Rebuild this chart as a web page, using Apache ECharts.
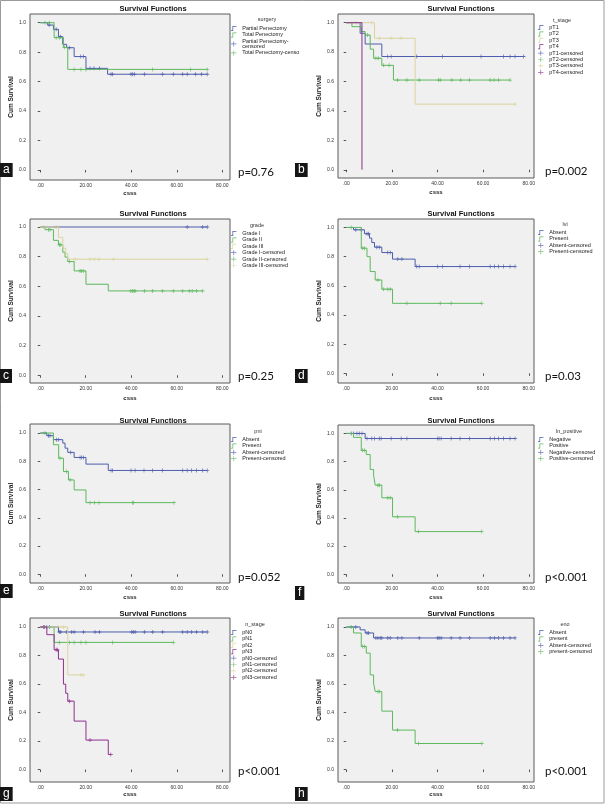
<!DOCTYPE html>
<html lang="en">
<head>
  <meta charset="utf-8">
  <title>Survival Functions</title>
  <style>
    html, body { margin: 0; padding: 0; background: #fff; }
    #chart { width: 605px; height: 804px; }
  </style>
</head>
<body>
<div id="chart"></div>
<script src="https://cdn.jsdelivr.net/npm/echarts@6.0.0/dist/echarts.min.js"></script>
<script>
  "use strict";

  // ---- data (time in months, cumulative survival) ----
  const tickX = [0, 20, 40, 60, 80];
  const tickY = [0, 0.2, 0.4, 0.6, 0.8, 1.0];

  // a: surgery
  const aPartialT = [0, 3.3, 5.8, 8.0, 9.9, 11.6, 14.9, 20.1, 29.6, 73.4];
  const aPartialS = [1, 0.984, 0.955, 0.905, 0.853, 0.83, 0.77, 0.69, 0.65, 0.65];
  const aPartialC = [3.9, 7.0, 8.9, 12.8, 17.8, 19.0, 21.9, 23.6, 26.0, 31.1, 31.8, 39.9, 40.6, 41.4, 45.8, 53.7, 58.5, 62.6, 64.6, 68.3, 70.9, 73.4];
  const aTotalT = [0, 6.1, 10.2, 12.1, 73.4];
  const aTotalS = [1, 0.898, 0.833, 0.683, 0.683];
  const aTotalC = [2.1, 4.0, 7.0, 8.4, 10.6, 14.9, 17.9, 20.1, 49.4, 66.1, 73.4];

  // b: t_stage
  const bT1T = [0, 6.1, 8.3, 15.6, 77.7];
  const bT1S = [1, 0.928, 0.855, 0.77, 0.77];
  const bT1C = [18.2, 19.7, 30.9, 42.2, 59.1, 68.9, 71.8, 74.0, 77.7];
  const bT2T = [0, 2.5, 6.6, 8.3, 10.5, 12.0, 15.6, 20.7, 71.8];
  const bT2S = [1, 0.973, 0.94, 0.916, 0.82, 0.758, 0.71, 0.61, 0.61];
  const bT2C = [9.3, 13.0, 14.2, 16.4, 18.8, 22.5, 26.6, 32.0, 40.4, 41.2, 46.3, 50.2, 54.0, 63.1, 64.8, 66.7, 71.8];
  const bT3T = [0, 12.4, 30.2, 74.0];
  const bT3S = [1, 0.894, 0.446, 0.446];
  const bT3C = [2.5, 3.9, 4.7, 11.2, 14.6, 19.7, 24.1, 74.0];
  const bT4T = [0, 6.9];
  const bT4S = [1, 0];
  const bT4C = [];

  // c: grade
  const cG1T = [0, 73.4];
  const cG1S = [1, 1];
  const cG1C = [64.6, 71.4, 73.4];
  const cG2T = [0, 2.1, 5.8, 8.0, 9.9, 10.9, 12.1, 14.9, 20.1, 29.9, 71.4];
  const cG2S = [1, 0.982, 0.91, 0.88, 0.83, 0.797, 0.767, 0.704, 0.614, 0.569, 0.569];
  const cG2C = [3.6, 4.3, 8.4, 9.0, 12.8, 17.5, 18.2, 19.0, 39.8, 40.5, 41.2, 41.7, 45.8, 49.4, 53.7, 58.5, 62.6, 65.5, 66.8, 68.7, 71.4];
  const cG3T = [0, 8.0, 9.9, 11.2, 12.1, 73.4];
  const cG3S = [1, 0.93, 0.857, 0.82, 0.783, 0.783];
  const cG3C = [1.4, 6.5, 7.2, 15.3, 21.9, 23.8, 25.8, 32.1, 73.4];

  // d: lvi
  const dAbsT = [0, 3.2, 8.0, 10.2, 11.2, 12.4, 15.6, 20.3, 30.2, 74.0];
  const dAbsS = [1, 0.984, 0.957, 0.927, 0.897, 0.865, 0.828, 0.783, 0.732, 0.732];
  const dAbsC = [4.2, 6.6, 9.1, 9.8, 13.4, 14.5, 18.2, 19.3, 22.6, 24.4, 30.9, 32.0, 40.1, 42.2, 49.9, 54.0, 63.1, 65.0, 66.7, 68.9, 71.8, 74.0];
  const dPreT = [0, 6.6, 9.1, 10.5, 12.7, 15.6, 20.3, 59.4];
  const dPreS = [1, 0.858, 0.80, 0.698, 0.64, 0.577, 0.48, 0.48];
  const dPreC = [2.2, 7.2, 8.0, 13.9, 16.4, 18.2, 19.3, 26.6, 41.2, 46.0, 59.4];

  // e: pni
  const eAbsT = [0, 2.9, 5.8, 9.9, 10.9, 12.1, 14.9, 20.1, 29.9, 73.4];
  const eAbsS = [1, 0.981, 0.953, 0.929, 0.893, 0.863, 0.827, 0.78, 0.735, 0.735];
  const eAbsC = [3.6, 4.3, 7.2, 8.1, 13.4, 17.5, 18.2, 19.0, 31.1, 31.8, 39.9, 41.7, 45.6, 49.4, 53.7, 62.6, 64.6, 66.5, 68.7, 71.4, 73.4];
  const ePreT = [0, 5.8, 8.1, 10.2, 12.4, 14.9, 20.1, 58.8];
  const ePreS = [1, 0.917, 0.822, 0.727, 0.668, 0.597, 0.507, 0.507];
  const ePreC = [2.1, 8.7, 11.6, 13.1, 21.9, 23.8, 25.8, 40.6, 40.9, 58.8];

  // f: ln_positive
  const fNegT = [0, 8.3, 74.0];
  const fNegS = [1, 0.964, 0.964];
  const fNegC = [2.2, 3.2, 4.7, 5.7, 6.9, 9.1, 11.2, 12.4, 14.5, 15.3, 19.7, 24.1, 26.6, 40.1, 40.7, 41.6, 46.0, 49.9, 54.0, 63.1, 65.0, 66.7, 68.9, 71.8, 74.0];
  const fPosT = [0, 3.2, 6.6, 8.8, 10.5, 12.0, 12.7, 15.6, 20.3, 30.2, 59.4];
  const fPosS = [1, 0.972, 0.88, 0.85, 0.744, 0.704, 0.633, 0.543, 0.408, 0.303, 0.303];
  const fPosC = [7.2, 8.0, 13.9, 14.5, 18.2, 19.3, 22.5, 31.7, 59.4];

  // g: n_stage
  const gN0T = [0, 8.0, 73.4];
  const gN0S = [1, 0.965, 0.965];
  const gN0C = [1.4, 2.9, 4.0, 8.4, 9.0, 11.6, 13.8, 14.9, 19.0, 24.1, 26.0, 40.2, 40.9, 41.7, 45.8, 49.4, 53.8, 62.6, 64.6, 66.5, 68.7, 71.4, 73.4];
  const gN1T = [0, 6.1, 58.5];
  const gN1S = [1, 0.892, 0.892];
  const gN1C = [8.4, 12.8, 14.9, 17.9, 20.1, 31.8, 58.5];
  const gN2T = [0, 12.1, 19.0];
  const gN2S = [1, 0.664, 0.664];
  const gN2C = [8.0, 10.2, 17.9, 19.0];
  const gN3T = [0, 2.9, 6.1, 8.0, 10.2, 11.2, 12.1, 14.9, 20.1, 29.9, 31.0];
  const gN3S = [1, 0.946, 0.84, 0.775, 0.599, 0.535, 0.48, 0.34, 0.207, 0.106, 0.106];
  const gN3C = [1.8, 7.0, 7.5, 12.8, 21.9, 31.0];

  // h: eno
  const hAbsT = [0, 6.1, 8.3, 12.0, 74.0];
  const hAbsS = [1, 0.98, 0.958, 0.923, 0.923];
  const hAbsC = [4.2, 9.1, 9.8, 13.0, 13.9, 14.9, 15.6, 18.2, 19.3, 22.6, 24.4, 32.0, 40.1, 40.7, 41.6, 46.0, 49.9, 54.0, 63.1, 65.0, 66.7, 68.9, 71.8, 74.0];
  const hPreT = [0, 3.2, 6.6, 8.8, 10.5, 12.0, 12.7, 15.6, 20.3, 30.2, 59.4];
  const hPreS = [1, 0.958, 0.864, 0.817, 0.664, 0.606, 0.547, 0.41, 0.277, 0.183, 0.183];
  const hPreC = [2.2, 7.2, 8.0, 13.9, 14.5, 22.5, 31.7, 59.4];

  const letters = ['a', 'b', 'c', 'd', 'e', 'f', 'g', 'h'];
  const factorNames = ['surgery', 't_stage', 'grade', 'lvi', 'pni', 'ln_positive', 'n_stage', 'eno'];
  const pValues = ['p=0.76', 'p=0.002', 'p=0.25', 'p=0.03', 'p=0.052', 'p<0.001', 'p<0.001', 'p<0.001'];

  const BLUE = '#4d5dab', GREEN = '#5db85d', TAN = '#d9d49c', PURPLE = '#8e2f8e';

  const groups = [
    [['Partial Penectomy', BLUE, aPartialT, aPartialS, aPartialC], ['Total Penectomy', GREEN, aTotalT, aTotalS, aTotalC]],
    [['pT1', BLUE, bT1T, bT1S, bT1C], ['pT2', GREEN, bT2T, bT2S, bT2C], ['pT3', TAN, bT3T, bT3S, bT3C], ['pT4', PURPLE, bT4T, bT4S, bT4C]],
    [['Grade I', BLUE, cG1T, cG1S, cG1C], ['Grade II', GREEN, cG2T, cG2S, cG2C], ['Grade III', TAN, cG3T, cG3S, cG3C]],
    [['Absent', BLUE, dAbsT, dAbsS, dAbsC], ['Present', GREEN, dPreT, dPreS, dPreC]],
    [['Absent', BLUE, eAbsT, eAbsS, eAbsC], ['Present', GREEN, ePreT, ePreS, ePreC]],
    [['Negative', BLUE, fNegT, fNegS, fNegC], ['Positive', GREEN, fPosT, fPosS, fPosC]],
    [['pN0', BLUE, gN0T, gN0S, gN0C], ['pN1', GREEN, gN1T, gN1S, gN1C], ['pN2', TAN, gN2T, gN2S, gN2C], ['pN3', PURPLE, gN3T, gN3S, gN3C]],
    [['Absent', BLUE, hAbsT, hAbsS, hAbsC], ['present', GREEN, hPreT, hPreS, hPreC]]
  ];

  // ---- layout of the eight panels ----
  const layout = [
    {left: 30,  top: 14,  width: 200, height: 166, xr: [-4.5, 83.4], yr: [-0.068, 1.059], titleY: 5,   pY: 166, boxY: 163, lt: [267, 16],  legTop: 25.5,  xGap: 10},
    {left: 338, top: 14,  width: 196, height: 164, xr: [-3.6, 82.3], yr: [-0.056, 1.059], titleY: 5,   pY: 165, boxY: 163, lt: [562, 17],  legTop: 24.5,  xGap: 11},
    {left: 30,  top: 219, width: 200, height: 164, xr: [-4.5, 83.4], yr: [-0.052, 1.054], titleY: 210, pY: 370, boxY: 369, lt: [257, 222], legTop: 230.5, xGap: 12},
    {left: 338, top: 219, width: 196, height: 164, xr: [-3.6, 82.3], yr: [-0.066, 1.058], titleY: 210, pY: 370, boxY: 369, lt: [565, 221], legTop: 229.5, xGap: 12},
    {left: 30,  top: 424, width: 200, height: 159, xr: [-4.5, 83.4], yr: [-0.062, 1.064], titleY: 417, pY: 571, boxY: 584, lt: [258, 428], legTop: 436.5, xGap: 11},
    {left: 338, top: 425, width: 196, height: 158, xr: [-3.6, 82.3], yr: [-0.062, 1.060], titleY: 417, pY: 571, boxY: 586, lt: [569, 428], legTop: 436.5, xGap: 11},
    {left: 30,  top: 618, width: 200, height: 164, xr: [-4.5, 83.4], yr: [-0.087, 1.063], titleY: 610, pY: 765, boxY: 787, lt: [255, 621], legTop: 629.5, xGap: 7},
    {left: 338, top: 618, width: 196, height: 164, xr: [-3.6, 82.3], yr: [-0.087, 1.063], titleY: 610, pY: 765, boxY: 787, lt: [565, 621], legTop: 629.5, xGap: 7}
  ];

  const FONT = 'Liberation Sans';
  const STEP_ICON = 'path://M0,9.4H3.2V0H12V1.6H4.8V11H0Z';
  const CENS_ICON = 'path://M0,4.7H5.2V0H6.8V4.7H12V6.3H6.8V11H5.2V6.3H0Z';
  const PLUS = 'path://M4,0H6V4H10V6H6V10H4V6H0V4H4Z';

  function kmData(T, S) {
    return T.map(function (t, i) { return [t, S[i]]; });
  }
  // censor marks sit on the step curve
  function censData(T, S, C) {
    return C.map(function (c) {
      let s = S[0];
      for (let i = 0; i < T.length; i++) { if (T[i] <= c) s = S[i]; }
      return [c, s];
    });
  }

  const grids = [], xAxes = [], yAxes = [], series = [], titles = [], legends = [];

  layout.forEach(function (L, i) {
    const col = L.left < 300 ? 0 : 1;
    grids.push({
      left: L.left, top: L.top, width: L.width, height: L.height,
      show: true, backgroundColor: '#f0f0f0', borderColor: '#5a5a5a', borderWidth: 1
    });
    xAxes.push({
      gridIndex: i, type: 'value', min: L.xr[0], max: L.xr[1],
      name: 'csss', nameLocation: 'middle', nameGap: L.xGap,
      nameTextStyle: {fontSize: 6, fontWeight: 'bold', fontFamily: FONT, color: '#222'},
      axisLine: {show: false}, splitLine: {show: false},
      axisTick: {show: true, length: 2.5, lineStyle: {color: '#555'}, customValues: tickX},
      axisLabel: {
        customValues: tickX, fontSize: 5, margin: 3, color: '#333', fontFamily: FONT,
        formatter: function (v) { return v === 0 ? '.00' : v.toFixed(2); }
      }
    });
    yAxes.push({
      gridIndex: i, type: 'value', min: L.yr[0], max: L.yr[1],
      name: 'Cum Survival', nameLocation: 'middle', nameGap: 15.5,
      nameTextStyle: {fontSize: 6.5, fontWeight: 'bold', fontFamily: FONT, color: '#222'},
      axisLine: {show: false}, splitLine: {show: false},
      axisTick: {show: true, length: 2.5, lineStyle: {color: '#555'}, customValues: tickY},
      axisLabel: {
        customValues: tickY, fontSize: 5, margin: 4, color: '#333', fontFamily: FONT,
        formatter: function (v) { return v.toFixed(1); }
      }
    });

    titles.push({
      text: 'Survival Functions', left: col ? 461 : 153, top: L.titleY, textAlign: 'center', padding: 0,
      textStyle: {fontSize: 7.5, fontWeight: 'bold', fontFamily: FONT, color: '#111'}
    });
    titles.push({
      text: factorNames[i], left: L.lt[0], top: L.lt[1], textAlign: 'center', padding: 0,
      textStyle: {fontSize: 5.5, fontWeight: 'normal', fontFamily: FONT, color: '#333'}
    });
    titles.push({
      text: pValues[i], left: col ? 545 : 238, top: L.pY, padding: 0,
      textStyle: {fontSize: 11.5, fontWeight: 'normal', fontFamily: 'Lato', color: '#111'}
    });
    titles.push({
      text: letters[i], left: col ? 295 : 0, top: L.boxY, padding: [1, 3, 1, 3],
      backgroundColor: '#151515',
      textStyle: {fontSize: 12, lineHeight: 12, fontWeight: 'normal', fontFamily: FONT, color: '#fff'}
    });

    const legData = [];
    groups[i].forEach(function (g) { legData.push({name: g[0], icon: STEP_ICON}); });
    groups[i].forEach(function (g) { legData.push({name: g[0] + '-censored', icon: CENS_ICON}); });

    legends.push({
      orient: 'vertical', left: col ? 538 : 231, top: L.legTop, padding: 0,
      itemWidth: 7, itemHeight: 5, itemGap: 0.4, selectedMode: false,
      textStyle: {fontSize: 5.5, lineHeight: 5.2, fontFamily: FONT, color: '#222', width: 59, overflow: 'truncate', ellipsis: ''},
      formatter: function (name) {
        return name === 'Partial Penectomy-censored' ? 'Partial Penectomy-\ncensored' : name;
      },
      data: legData
    });

    groups[i].forEach(function (g) {
      series.push({
        type: 'line', name: g[0], xAxisIndex: i, yAxisIndex: i,
        data: kmData(g[2], g[3]), step: 'end', symbol: 'none', silent: true,
        lineStyle: {width: 1, color: g[1]}, itemStyle: {color: g[1]}
      });
    });
    groups[i].forEach(function (g) {
      series.push({
        type: 'scatter', name: g[0] + '-censored', xAxisIndex: i, yAxisIndex: i,
        data: censData(g[2], g[3], g[4]), symbol: PLUS, symbolSize: 4, silent: true,
        itemStyle: {color: g[1]}
      });
    });
  });

  const chart = echarts.init(document.getElementById('chart'));
  chart.setOption({
    animation: false,
    backgroundColor: '#ffffff',
    textStyle: {fontFamily: FONT},
    graphic: [{
      type: 'rect', silent: true,
      shape: {x: 0.5, y: 0.5, width: 603.5, height: 802.5},
      style: {fill: 'none', stroke: '#9a9a9a', lineWidth: 1}
    }],
    title: titles,
    legend: legends,
    grid: grids,
    xAxis: xAxes,
    yAxis: yAxes,
    series: series
  });
</script>
</body>
</html>
